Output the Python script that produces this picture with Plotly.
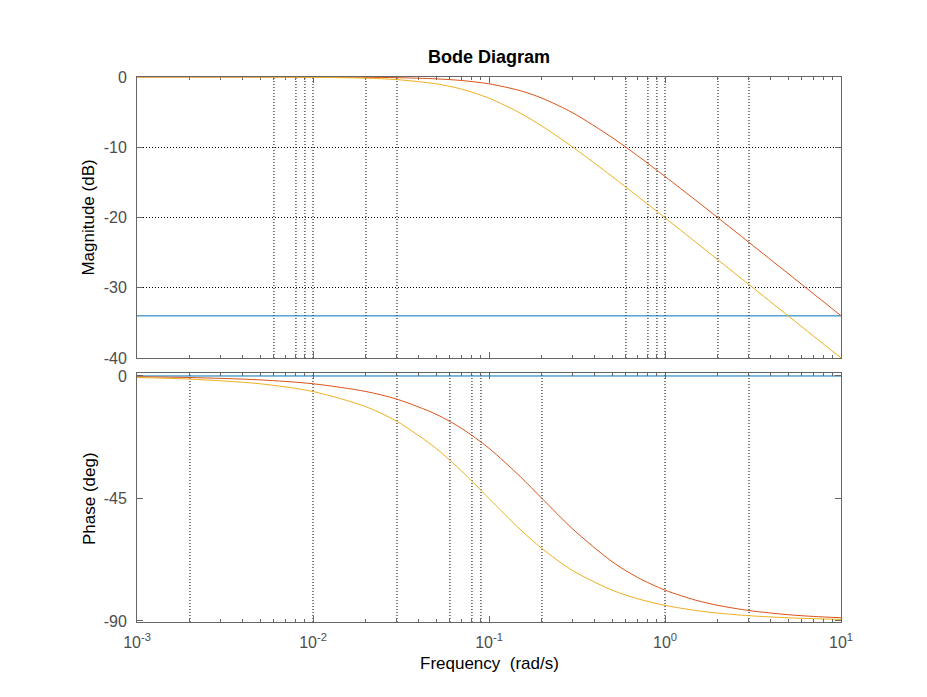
import plotly.graph_objects as go

# ---------------- data ----------------
FREQ = [0.001, 0.002, 0.005, 0.01, 0.02, 0.03, 0.05, 0.07, 0.1, 0.15, 0.2,
        0.3, 0.5, 0.7, 1, 1.5, 2, 3, 5, 7, 10]
MAG_RED = [-0.0001, -0.0004, -0.0027, -0.011, -0.043, -0.097, -0.263, -0.502,
           -0.969, -1.938, -3.01, -5.119, -8.603, -11.222, -14.15, -17.578,
           -20.043, -23.541, -27.966, -30.885, -33.981]
PHASE_RED = [-0.29, -0.57, -1.43, -2.86, -5.71, -8.53, -14.04, -19.29, -26.57,
             -36.87, -45.0, -56.31, -68.2, -74.05, -78.69, -82.41, -84.29,
             -86.19, -87.71, -88.36, -88.85]
MAG_YEL = [-0.0004, -0.0017, -0.011, -0.043, -0.17, -0.374, -0.969, -1.732,
           -3.01, -5.119, -6.99, -10.0, -14.15, -16.99, -20.043, -23.541,
           -26.031, -29.547, -33.981, -36.903, -40.0]
PHASE_YEL = [-0.57, -1.15, -2.86, -5.71, -11.31, -16.7, -26.57, -34.99, -45.0,
             -56.31, -63.43, -71.57, -78.69, -81.87, -84.29, -86.19, -87.14,
             -88.09, -88.85, -89.18, -89.43]
FREQ_BLUE = [0.001, 10]
MAG_BLUE = [-34, -34]
PHASE_BLUE = [0, 0]

DECADES = [0.001, 0.01, 0.1, 1, 10]
DECADE_LABELS = ["10<sup>-3</sup>", "10<sup>-2</sup>", "10<sup>-1</sup>",
                 "10<sup>0</sup>", "10<sup>1</sup>"]
MINOR = [m * d for d in DECADES[:-1] for m in range(2, 10)]
GRID_TOP = [0.006, 0.008, 0.009, 0.01, 0.02, 0.03, 0.6, 0.8, 0.9, 1, 2, 3]
GRID_BOTTOM = [0.002, 0.01, 0.03, 0.06, 0.08, 0.09, 0.2, 1, 3]
MAG_TICKS = [-40, -30, -20, -10, 0]
MAG_LABELS = ["-40", "-30", "-20", "-10", "0"]
PHASE_TICKS = [-90, -45, 0]
PHASE_LABELS = ["-90", "-45", "0"]

BLUE, RED, YEL = "#0072BD", "#D95319", "#EDB120"
AX = "#666666"
FONT = "Liberation Sans, Arial, sans-serif"

fig = go.Figure()
for x, y, c, ya, xa in [
    (FREQ_BLUE, MAG_BLUE, BLUE, "y", "x"),
    (FREQ, MAG_RED, RED, "y", "x"),
    (FREQ, MAG_YEL, YEL, "y", "x"),
    (FREQ_BLUE, PHASE_BLUE, BLUE, "y2", "x2"),
    (FREQ, PHASE_RED, RED, "y2", "x2"),
    (FREQ, PHASE_YEL, YEL, "y2", "x2"),
]:
    fig.add_trace(go.Scatter(x=x, y=y, mode="lines", xaxis=xa, yaxis=ya,
                             line=dict(color=c, width=1, shape="spline", smoothing=0.8),
                             showlegend=False, hoverinfo="skip"))

shapes = []
for f in GRID_TOP:
    shapes.append(dict(type="line", xref="x", yref="y domain", x0=f, x1=f, y0=0, y1=1,
                       line=dict(color="black", width=1, dash="1px,2px"), layer="below"))
for f in GRID_BOTTOM:
    shapes.append(dict(type="line", xref="x2", yref="y2 domain", x0=f, x1=f, y0=0, y1=1,
                       line=dict(color="black", width=1, dash="1px,2px"), layer="below"))

xcommon = dict(type="log", range=[-3, 1], showline=True, linecolor=AX, linewidth=1,
               mirror="ticks", ticks="inside", ticklen=6, tickcolor=AX, tickwidth=1,
               tickmode="array", tickvals=DECADES, ticktext=DECADE_LABELS,
               showgrid=False, zeroline=False,
               minor=dict(ticks="inside", ticklen=3, tickcolor=AX, tickmode="array",
                          tickvals=MINOR, showgrid=False),
               tickfont=dict(family=FONT, size=16, color="#4d4d4d"))
ycommon = dict(showline=True, linecolor=AX, linewidth=1, mirror="ticks",
               ticks="inside", ticklen=6, tickcolor=AX, tickwidth=1, zeroline=False,
               tickmode="array",
               tickfont=dict(family=FONT, size=16, color="#4d4d4d"),
               ticklabelstandoff=6)

fig.update_layout(
    width=927, height=697,
    margin=dict(l=137, r=86, t=77, b=75),
    paper_bgcolor="white", plot_bgcolor="white",
    xaxis=dict(xcommon, anchor="y", showticklabels=False, matches="x2",
               layer="below traces"),
    xaxis2=dict(xcommon, anchor="y2", ticklabelstandoff=6),
    yaxis=dict(ycommon, domain=[0.4844, 1], range=[-40, 0], tickvals=MAG_TICKS,
               ticktext=MAG_LABELS,
               showgrid=True, gridcolor="black", gridwidth=1, griddash="1px,2px",
               anchor="x"),
    yaxis2=dict(ycommon, domain=[0, 0.4569], range=[-90.4, 1.1], tickvals=PHASE_TICKS,
                ticktext=PHASE_LABELS, showgrid=False, anchor="x2"),
    shapes=shapes,
    annotations=[
        dict(text="<b>Bode Diagram</b>", xref="paper", yref="paper", x=0.5, y=1.0367,
             xanchor="center", yanchor="middle", showarrow=False,
             font=dict(family=FONT, size=18, color="black")),
        dict(text="Magnitude (dB)", xref="paper", yref="paper", x=-0.0682, y=0.742,
             xanchor="center", yanchor="middle", textangle=-90, showarrow=False,
             font=dict(family=FONT, size=17, color="black")),
        dict(text="Phase (deg)", xref="paper", yref="paper", x=-0.0682, y=0.2275,
             xanchor="center", yanchor="middle", textangle=-90, showarrow=False,
             font=dict(family=FONT, size=17, color="black")),
        dict(text="Frequency\u00a0 (rad/s)", xref="paper", yref="paper", x=0.5, y=-0.077,
             xanchor="center", yanchor="middle", showarrow=False,
             font=dict(family=FONT, size=17, color="black")),
    ],
)

fig.write_html("out.html")
